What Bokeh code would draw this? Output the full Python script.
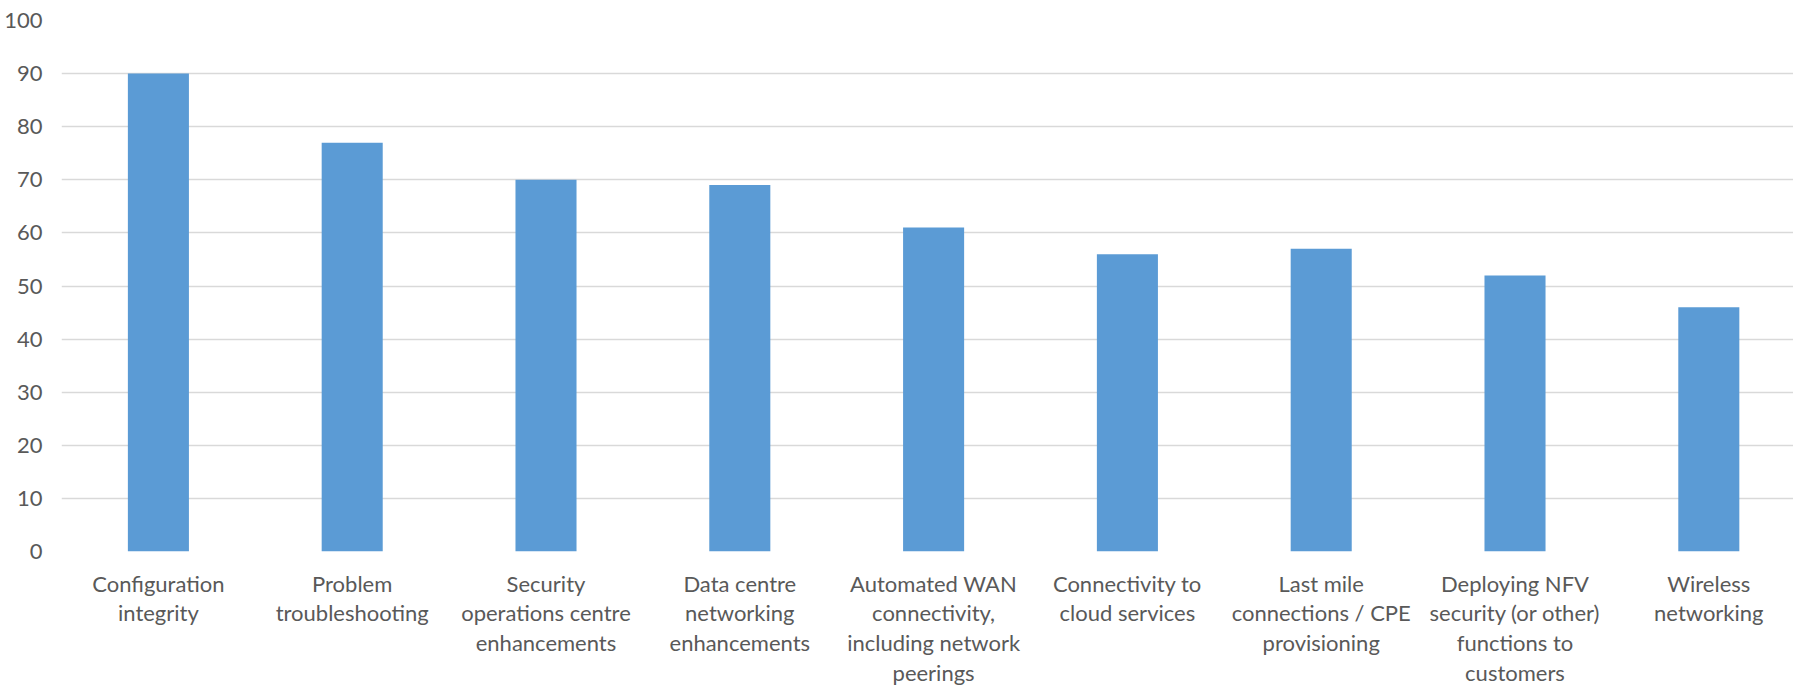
from bokeh.plotting import figure
from bokeh.models import Range1d, FixedTicker, ColumnDataSource
from bokeh.embed import file_html
from bokeh.resources import INLINE

categories = [
    "Configuration\nintegrity",
    "Problem\ntroubleshooting",
    "Security\noperations centre\nenhancements",
    "Data centre\nnetworking\nenhancements",
    "Automated WAN\nconnectivity,\nincluding network\npeerings",
    "Connectivity to\ncloud services",
    "Last mile\nconnections / CPE\nprovisioning",
    "Deploying NFV\nsecurity (or other)\nfunctions to\ncustomers",
    "Wireless\nnetworking",
]
values = [90, 77, 70, 69, 61, 56, 57, 52, 46]
y_ticks = [0, 10, 20, 30, 40, 50, 60, 70, 80, 90, 100]

FONT = "Lato"
TEXT_GREY = "#595959"
GRID_GREY = "#D9D9D9"
BAR_BLUE = "#5B9BD5"

positions = [i + 0.5 for i in range(len(categories))]
source = ColumnDataSource(dict(x=positions, top=values))

p = figure(
    width=1793, height=689,
    x_range=Range1d(0, 8.937), y_range=Range1d(0, 100),
    output_backend="svg", toolbar_location=None,
    min_border_left=61, min_border_right=0,
    min_border_top=20, min_border_bottom=138,
)
p.outline_line_color = None
p.background_fill_color = "white"
p.border_fill_color = "white"

p.vbar(x="x", top="top", bottom=0, width=0.315, source=source,
       fill_color=BAR_BLUE, line_color=None)

# horizontal gridlines only
p.xgrid.grid_line_color = None
p.ygrid.grid_line_color = GRID_GREY
p.ygrid.grid_line_width = 1.5
p.ygrid.ticker = FixedTicker(ticks=y_ticks)

# value axis
p.yaxis.ticker = FixedTicker(ticks=y_ticks)
p.yaxis.axis_line_color = None
p.yaxis.major_tick_line_color = None
p.yaxis.minor_tick_line_color = None
p.yaxis.major_label_standoff = 13
p.yaxis.major_label_text_font = FONT
p.yaxis.major_label_text_font_size = "22px"
p.yaxis.major_label_text_color = TEXT_GREY

# category axis with wrapped labels
p.xaxis.ticker = FixedTicker(ticks=positions)
p.xaxis.major_label_overrides = {pos: lab for pos, lab in zip(positions, categories)}
p.xaxis.axis_line_color = None
p.xaxis.major_tick_line_color = None
p.xaxis.minor_tick_line_color = None
p.xaxis.major_label_standoff = 12
p.xaxis.major_label_text_font = FONT
p.xaxis.major_label_text_font_size = "22px"
p.xaxis.major_label_text_color = TEXT_GREY
p.xaxis.major_label_text_line_height = 1.1

open("out.html", "w").write(file_html(p, INLINE))
